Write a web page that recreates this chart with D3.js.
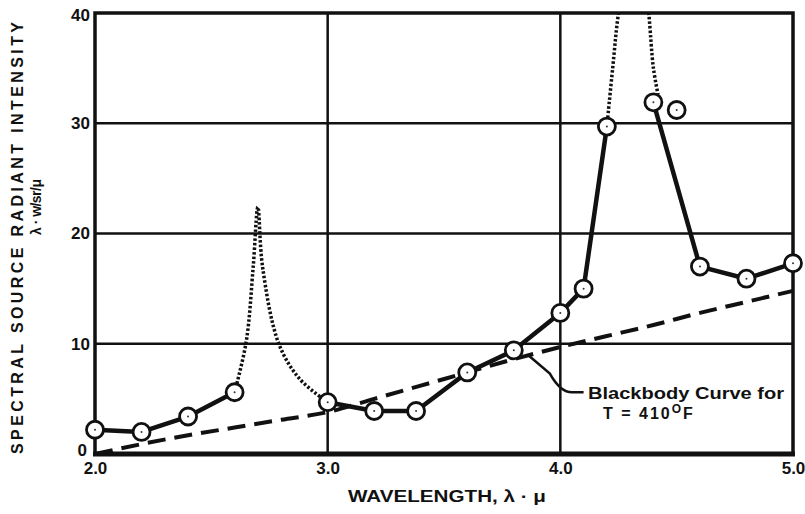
<!DOCTYPE html>
<html>
<head>
<meta charset="utf-8">
<script src="https://cdn.jsdelivr.net/npm/d3@7"></script>
<style>
	body { margin: 0; background: #fff; }
	svg text { font-family: "Liberation Sans", Arial, sans-serif; font-weight: bold; fill: #111; }
</style>
</head>
<body>
<svg id="svg" width="805" height="514"></svg>
<script>
// measured points (circles)
const wavelength = [2.0, 2.2, 2.4, 2.6, 3.0, 3.2, 3.38, 3.6, 3.8, 4.0, 4.1, 4.2, 4.4, 4.5, 4.6, 4.8, 5.0];
const intensity = [2.2, 2.0, 3.4, 5.6, 4.7, 3.9, 3.9, 7.4, 9.4, 12.8, 15.0, 29.7, 31.9, 31.2, 17.0, 15.9, 17.3];

// which points the solid line joins (point 4.5 stands alone)
const solidSegments = [[0, 1, 2, 3], [4, 5, 6, 7, 8, 9, 10, 11], [12, 14, 15, 16]];

// dotted absorption peaks
const peak1Wl = [2.6, 2.65, 2.68, 2.70, 2.72, 2.79, 2.88, 3.0];
const peak1Val = [5.6, 10.2, 17.0, 22.4, 17.0, 10.0, 6.8, 4.7];
const peak2Wl = [4.2, 4.225, 4.25, 4.3, 4.35, 4.38, 4.40, 4.42];
const peak2Val = [29.7, 35.0, 40.0, 46.0, 46.0, 40.0, 35.0, 32.6];

// blackbody curve (dashed)
const bbWl = [2.0, 2.2, 2.4, 2.6, 2.8, 3.0, 3.2, 3.4, 3.6, 3.8, 4.0, 4.2, 4.4, 4.6, 4.8, 5.0];
const bbVal = [0, 0.9, 1.7, 2.4, 3.1, 3.8, 5.0, 6.2, 7.4, 8.6, 9.7, 10.7, 11.7, 12.8, 13.8, 14.8];

const xTicks = [2.0, 3.0, 4.0, 5.0];
const yTicks = [0, 10, 20, 30, 40];

const margin = { top: 13, right: 12, bottom: 60, left: 95 };
const width = 793 - margin.left;
const height = 454 - margin.top;

const svg = d3.select('#svg');
const g = svg.append('g').attr('transform', `translate(${margin.left}, ${margin.top})`);

const x = d3.scaleLinear().domain([2, 5]).range([0, width]);
const y = d3.scaleLinear().domain([0, 40]).range([height, 0]);

svg.append('clipPath').attr('id', 'plot')
	.append('rect').attr('width', width).attr('height', height);

// grid
g.append('g')
	.selectAll('line')
	.data(xTicks.slice(1, 3))
	.enter().append('line')
	.attr('x1', d => x(d)).attr('x2', d => x(d))
	.attr('y1', 0).attr('y2', height)
	.attr('stroke', '#111').attr('stroke-width', 2.5);
g.append('g')
	.selectAll('line')
	.data(yTicks.slice(1, 4))
	.enter().append('line')
	.attr('x1', 0).attr('x2', width)
	.attr('y1', d => y(d)).attr('y2', d => y(d))
	.attr('stroke', '#111').attr('stroke-width', 2.5);

// frame
g.append('rect')
	.attr('width', width).attr('height', height)
	.attr('fill', 'none').attr('stroke', '#111').attr('stroke-width', 3.5);
g.append('line')
	.attr('x1', -2).attr('x2', width + 2)
	.attr('y1', height).attr('y2', height)
	.attr('stroke', '#111').attr('stroke-width', 5);

// axes (labels only, lines drawn above)
const xAxis = d3.axisBottom(x).tickValues(xTicks).tickSize(0).tickFormat(d3.format('.1f'));
const yAxis = d3.axisLeft(y).tickValues(yTicks).tickSize(0).tickFormat(d3.format('d'));

const xa = g.append('g').attr('transform', `translate(0, ${height})`).call(xAxis);
xa.select('.domain').remove();
xa.selectAll('text').attr('font-size', 17).attr('dy', 0).attr('y', 20)
	.attr('font-family', '"Liberation Sans", Arial, sans-serif').attr('fill', '#111');

const ya = g.append('g').call(yAxis);
ya.select('.domain').remove();
ya.selectAll('text').attr('font-size', 17).attr('x', -5)
	.attr('font-family', '"Liberation Sans", Arial, sans-serif').attr('fill', '#111');
ya.selectAll('.tick').filter(d => d === 0).select('text').attr('x', -8).attr('dy', '0.1em');
ya.selectAll('.tick').filter(d => d === 40).select('text').attr('dy', '0.45em');

// blackbody dashed
const line = d3.line().x(d => x(d[0])).y(d => y(d[1]));
g.append('path')
	.datum(d3.zip(bbWl, bbVal))
	.attr('d', line.curve(d3.curveMonotoneX))
	.attr('fill', 'none').attr('stroke', '#111')
	.attr('stroke-width', 4).attr('stroke-dasharray', '18,9');

// dotted peaks
const dotted = d3.line().x(d => x(d[0])).y(d => y(d[1])).curve(d3.curveCatmullRom);
[[peak1Wl, peak1Val], [peak2Wl, peak2Val]].forEach(p => {
	g.append('path')
		.datum(d3.zip(p[0], p[1]))
		.attr('d', dotted)
		.attr('clip-path', 'url(#plot)')
		.attr('fill', 'none').attr('stroke', '#111')
		.attr('stroke-width', 3.5).attr('stroke-dasharray', '2.5,2');
});

// solid segments
const pts = d3.zip(wavelength, intensity);
solidSegments.forEach(seg => {
	g.append('path')
		.datum(seg.map(i => pts[i]))
		.attr('d', d3.line().x(d => x(d[0])).y(d => y(d[1])))
		.attr('fill', 'none').attr('stroke', '#111')
		.attr('stroke-width', 4.5).attr('stroke-linejoin', 'round');
});

// circles
const circ = g.append('g').selectAll('g')
	.data(pts)
	.enter().append('g')
	.attr('transform', d => `translate(${x(d[0])}, ${y(d[1])})`);
circ.append('circle').attr('r', 8.5)
	.attr('fill', '#fff').attr('stroke', '#111').attr('stroke-width', 2.8);
circ.append('circle').attr('r', 1).attr('fill', '#333');

// annotation leader
g.append('path')
	.attr('d', `M${x(3.86)},${y(9.0)} L${x(3.955)},${y(7.3)} Q${x(4.0)},${y(5.6)} ${x(4.05)},${y(5.6)} L${x(4.1)},${y(5.6)}`)
	.attr('fill', 'none').attr('stroke', '#111').attr('stroke-width', 2.5);
svg.append('text').attr('x', 588).attr('y', 399)
	.attr('font-size', 16).attr('textLength', 196).attr('lengthAdjust', 'spacingAndGlyphs')
	.text('Blackbody Curve for');
const tt = svg.append('text').attr('x', 603).attr('y', 419).attr('font-size', 16)
	.attr('letter-spacing', 2);
tt.append('tspan').text('T = 410');
tt.append('tspan').attr('dy', -6).attr('font-size', 12).text('O');
tt.append('tspan').attr('dy', 6).text('F');

// titles
svg.append('text')
	.attr('transform', 'translate(23, 238) rotate(-90)')
	.attr('text-anchor', 'middle').attr('font-size', 16)
	.attr('textLength', 432).attr('lengthAdjust', 'spacing')
	.text('SPECTRAL SOURCE RADIANT INTENSITY');
svg.append('text')
	.attr('transform', 'translate(41, 207) rotate(-90)')
	.attr('text-anchor', 'middle').attr('font-size', 14)
	.attr('textLength', 56).attr('lengthAdjust', 'spacing')
	.text('λ · w/sr/μ');
svg.append('text')
	.attr('x', 447).attr('y', 502)
	.attr('text-anchor', 'middle').attr('font-size', 17)
	.attr('textLength', 198).attr('lengthAdjust', 'spacingAndGlyphs')
	.text('WAVELENGTH, λ · μ');
</script>
</body>
</html>
